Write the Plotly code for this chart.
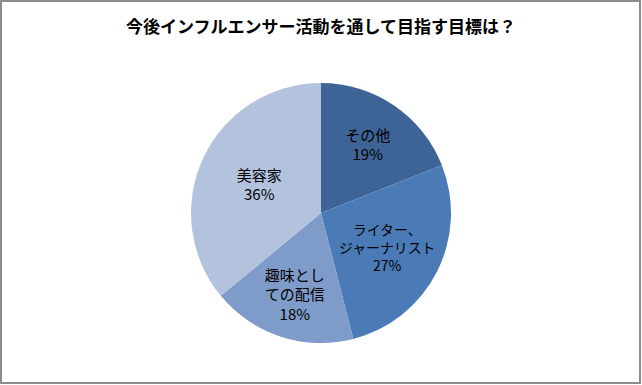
import plotly.graph_objects as go

labels = ["その他", "ライター、ジャーナリスト", "趣味としての配信", "美容家"]
label_text = ["その他", "ライター、<br>ジャーナリスト", "趣味とし<br>ての配信", "美容家"]
values = [19, 27, 18, 36]
colors = ["#3E6497", "#4A7BB7", "#7E9BC9", "#B3C3DE"]
title = "今後インフルエンサー活動を通して目指す目標は？"

texts = [f"{t}<br>{v}%" for t, v in zip(label_text, values)]

fig = go.Figure(go.Pie(
    labels=labels, values=values, text=texts, textinfo="text",
    sort=False, direction="clockwise", rotation=0,
    marker=dict(colors=colors, line=dict(width=0)),
    textposition="inside", insidetextorientation="horizontal",
    insidetextfont=dict(size=15, color="#000000", family="Noto Sans CJK JP"),
    hoverinfo="label+percent", showlegend=False,
))

H = 260.0
fig.update_layout(
    width=642, height=385,
    margin=dict(l=0, r=0, t=83, b=42),
    paper_bgcolor="white",
    title=dict(text="<b>" + title + "</b>", x=0.5, xanchor="center", y=1 - 27/385, yanchor="middle",
               font=dict(size=17, color="#000000", family="Noto Sans CJK JP")),
    font=dict(family="Noto Sans CJK JP"),
    shapes=[dict(type="rect", xref="paper", yref="paper",
                 x0=1/642, x1=640/642, y0=(343-383)/H, y1=(343-1)/H,
                 line=dict(color="#8C8C8C", width=2), fillcolor="rgba(0,0,0,0)")],
)
fig.write_html("out.html", config={"displayModeBar": False},
               post_script="document.body.style.margin='0';document.body.style.overflow='hidden';")
